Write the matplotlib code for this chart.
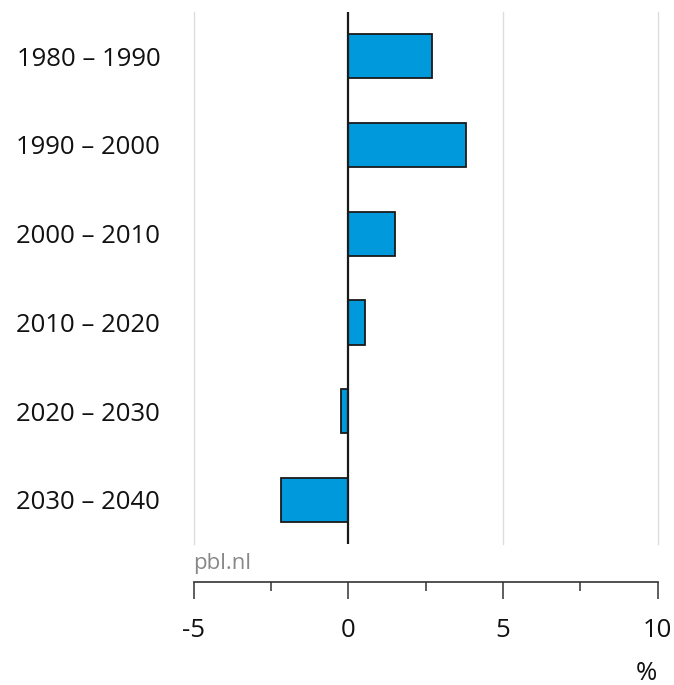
import matplotlib; matplotlib.use("Agg")
import matplotlib.pyplot as plt
from matplotlib.ticker import MultipleLocator

periods = ["1980 – 1990", "1990 – 2000", "2000 – 2010", "2010 – 2020", "2020 – 2030", "2030 – 2040"]
change = [2.71, 3.80, 1.52, 0.54, -0.24, -2.19]
xticks = [-5, 0, 5, 10]

BLUE = "#0099dc"
plt.rcParams.update({"font.family": ["Open Sans", "DejaVu Sans"]})

fig = plt.figure(figsize=(6.74, 6.85), dpi=100)
ax = fig.add_axes([0.2874, 0.2058, 0.6884, 0.7767])

ypos = range(len(periods))
ax.barh(ypos, change, height=0.5, color=BLUE, edgecolor="#1a1a1a", linewidth=1.3, zorder=3)
for g in [-5, 5, 10]:
    ax.axvline(g, color="#dddddd", lw=1, zorder=0, clip_on=False)
ax.axvline(0, color="#1a1a1a", lw=1.6, zorder=4)

ax.set_xlim(-5, 10)
ax.set_ylim(len(periods) - 0.5, -0.5)
ax.set_yticks(list(ypos))
ax.set_yticklabels(periods, fontsize=18.5, color="#111111")
ax.tick_params(axis="y", length=0, pad=24)

ax.set_xticks(xticks)
ax.xaxis.set_minor_locator(MultipleLocator(2.5))
ax.tick_params(axis="x", which="major", length=12.5, width=1.1, color="#333333",
               labelsize=18.5, labelcolor="#111111", pad=14)
ax.tick_params(axis="x", which="minor", length=6.5, width=1.1, color="#333333")
ax.set_xticklabels(["-5", "0", "5", "10"])

for s in ["top", "right", "left"]:
    ax.spines[s].set_visible(False)
ax.spines["bottom"].set_position(("outward", 27))
ax.spines["bottom"].set_color("#333333")
ax.spines["bottom"].set_linewidth(1.2)

fig.text(0.287, 1 - 563 / 685, "pbl.nl", fontsize=16, color="#888888", va="center", ha="left")
fig.text(646 / 674, 1 - 674 / 685, "%", fontsize=18.5, color="#111111", va="center", ha="center")

fig.savefig("out.png", dpi=100, facecolor="white")
